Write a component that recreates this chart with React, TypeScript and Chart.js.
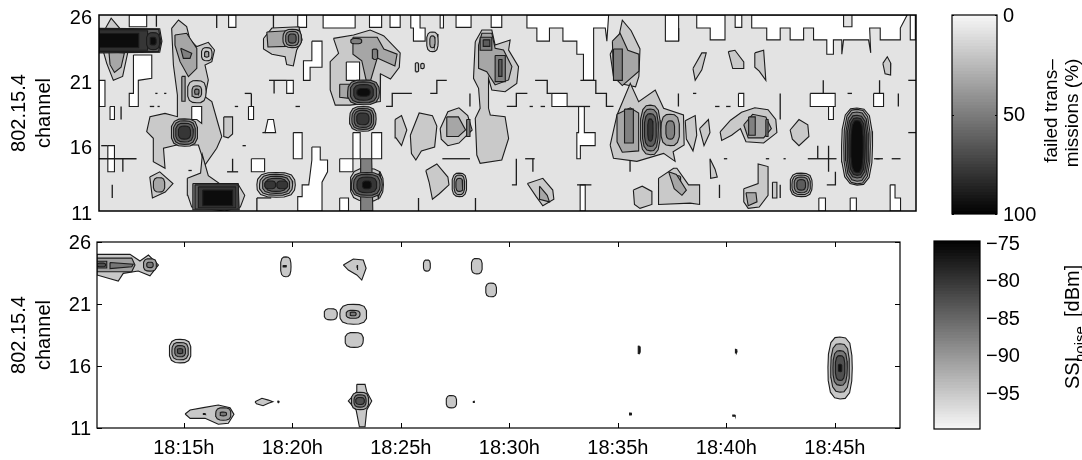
import React, { useEffect, useRef } from "react";
import { Chart } from "chart.js/auto";

// ---- axes ----
const timeMin = 11;
const timeMax = 48;
const channelTicks = [11, 16, 21, 26];
const timeTicks = [15, 20, 25, 30, 35, 40, 45];
const failedTicks = [0, 50, 100];
const noiseTicks = [-75, -80, -85, -90, -95];

// ---- top panel: failed transmissions. t = minutes after 18:00, c = channel ----
const whiteRects = [
  [12.37, 13.16, 26, 25.1], [16.87, 17.2, 26, 25.05], [20, 20.4, 26, 25.05], [23.25, 23.8, 26, 25.05],
  [21.15, 22.6, 26, 25], [11, 11.27, 21, 19], [11.5, 11.7, 19, 18], [11.4, 11.7, 16, 14], [17.77, 18, 19, 18],
  [19.5, 19.8, 21, 20], [17.9, 18.5, 15, 14], [19.8, 20.2, 17, 15], [21.9, 22.3, 12, 11], [21.9, 22.5, 15, 14],
  [22.5, 22.83, 17, 15], [23.35, 23.8, 17, 15], [24.18, 24.64, 26, 25.05], [26.45, 26.6, 26, 25],
  [27.17, 27.85, 26, 25.05], [28.76, 29.24, 26, 25.05], [31.51, 32.2, 20, 19], [36.65, 37.25, 26, 24],
  [32.79, 33.02, 13, 11], [39.81, 40.11, 26, 25.05], [43.21, 44.34, 20, 19], [44.04, 44.26, 19, 18],
  [46.08, 46.53, 20, 19], [43.6, 43.9, 12, 11], [45.02, 45.3, 12, 11], [39.96, 40.2, 20, 19], [47.74, 47.97, 26, 24.1],
];
const whitePolys = [
  [12.56, 22.94, 13.39, 22.94, 13.39, 21.15, 12.78, 21, 12.78, 19, 12.37, 19, 12.37, 20, 12.56, 20],
  [20.64, 24, 21.1, 24, 21.1, 22, 20.56, 22, 20.56, 21, 20.26, 21, 20.26, 22.5, 20.64, 22.5],
  [20.64, 15.9, 21.02, 15.9, 21.02, 14.9, 21.35, 14.9, 21.35, 14, 21.1, 13.2, 21.1, 11, 20, 11, 20, 12.1, 20.2, 12.1, 20.2, 13, 20.5, 13, 20.64, 14.9],
  [30.38, 26, 34.08, 26, 34, 24, 33.93, 25, 33.4, 25, 33.4, 21, 32.94, 21, 32.94, 23, 32.64, 23, 32.64, 24, 32.01, 24, 32.01, 25, 31.4, 25, 31.4, 24, 30.83, 24, 30.83, 25, 30.38, 25],
  [25.12, 26, 25.54, 26, 25.54, 25, 25.77, 25, 25.77, 24, 25.24, 24, 25.24, 25, 25.12, 25],
  [32.72, 19, 32.98, 19, 32.98, 17, 33.47, 17, 33.47, 16, 32.8, 16, 32.8, 15, 32.64, 15, 32.64, 17, 32.72, 17],
  [38.07, 26, 39.35, 26, 39.35, 24.1, 38.68, 24.1, 38.68, 25, 38.07, 25],
  [40.56, 26, 47.6, 26, 47.29, 25, 47.29, 24.1, 46.38, 24.1, 46.38, 25, 45.9, 25, 45.95, 23.1, 45.85, 24.1, 44.72, 24.1, 44.64, 23, 44.64, 24.1, 44.26, 24.1, 44.26, 23, 43.96, 23, 43.96, 24.1, 43.36, 24.1, 43.36, 25, 42.91, 25, 42.91, 24.1, 42.3, 24.1, 42.3, 25, 41.85, 25, 41.85, 24.1, 41.24, 24.1, 41.24, 25, 40.56, 25],
  [46.83, 13, 47.05, 13, 47.05, 12, 47.3, 12, 47.3, 11, 46.83, 11],
  [18.52, 17, 19, 17, 18.9, 18, 18.65, 18],
];
const grayIslands = [[44.72, 45.1, 26, 25.1]];
const openLines = [
  [13.6, 26, 13.6, 25.1], [16.33, 26, 16.33, 25], [18.9, 26, 18.9, 25], [11, 15, 12.7, 15], [12.08, 15, 12.08, 14],
  [11.1, 16, 11.4, 16], [17.05, 15, 17.05, 14], [16.8, 14, 17.3, 14], [12, 19, 12, 18], [18.15, 12, 18.8, 12],
  [18.15, 12, 18.15, 11], [18.7, 21, 19.5, 21], [18.93, 21, 18.93, 20], [17.6, 20, 17.9, 20], [17.9, 20, 17.9, 19],
  [24, 19, 24.28, 19, 24.28, 20, 25.17, 20], [26, 20, 26.3, 20, 26.3, 21, 26.75, 21], [27.8, 20, 27.8, 19],
  [29.47, 19, 29.9, 19, 29.9, 20, 30.4, 20], [30.75, 21, 31.3, 21, 31.3, 20, 31.51, 20], [32.2, 19, 33.24, 19],
  [32.8, 21, 33.5, 21, 33.5, 20, 33.98, 20, 33.98, 19, 34.3, 19], [26.55, 15, 27.8, 15], [29.9, 15, 29.9, 13, 29.7, 13],
  [30.3, 15, 30.73, 15], [30.65, 15, 30.65, 14], [25.47, 12, 25.47, 11], [28.05, 12, 28.05, 11], [32.65, 13, 33.3, 13],
  [35.05, 15, 35.05, 14], [37.25, 24, 37.25, 25], [41.85, 20, 41.85, 18], [37.24, 20, 37.24, 19],
  [47.2, 20, 47.2, 19], [43.8, 21, 43.8, 20], [46.35, 21, 46.35, 20], [47.65, 21, 48, 21], [47.65, 17, 48, 17],
  [43.1, 15, 44.4, 15], [43.55, 16, 43.55, 15], [44.04, 16, 44.04, 14], [44.35, 14, 44.35, 13, 43.96, 13],
  [46.1, 15, 46.5, 15], [41.85, 13, 41.85, 12], [39.1, 13, 39.1, 12], [11.6, 13, 11.6, 12], [46.9, 15, 47.3, 15],
  [13.3, 19, 13.5, 19], [13.65, 19, 13.75, 19], [13.55, 20, 13.65, 20], [13.95, 20, 14.05, 20], [17.15, 19, 17.3, 19],
  [15.05, 14.1, 15.2, 14.1], [17.5, 16, 17.65, 16], [18.4, 17, 18.55, 17], [19.9, 19, 20.1, 19], [30.5, 19, 30.65, 19],
  [31, 19, 31.2, 19], [38.9, 19, 39.1, 19], [39.4, 19, 39.6, 19], [37.9, 20, 38.05, 20], [44.9, 20, 45.1, 20],
  [39.3, 15, 39.45, 15], [41.2, 15, 41.35, 15], [42, 15, 42.1, 15], [46.2, 15, 46.35, 15],
];
const level1Polys = [
  [14.29, 24.98, 14.6, 25.62, 14.97, 25.11, 15.12, 24.09, 15.43, 23.58, 15.95, 23.91, 16.23, 23.32, 16.11, 22.43, 15.8, 22.17, 15.95, 21.03, 15.8, 19.75, 16.11, 19.37, 16.41, 17.58, 16.56, 16.69, 16.33, 15.8, 15.8, 14.52, 15.5, 16.05, 14.52, 16.05, 13.92, 15.8, 13.99, 14.27, 13.46, 14.78, 13.46, 16.56, 13.16, 17.07, 13.31, 18.22, 13.99, 18.47, 14.55, 18.22, 14.55, 19.88, 14.37, 22.17],
  [11.3, 25, 11.55, 25.75, 11.93, 25, 12.3, 23.1, 12.07, 21.3, 11.65, 21, 11.35, 22.3, 11.2, 23.2],
  [16.65, 18.2, 17.05, 18.2, 17.05, 16.9, 16.85, 16.6, 16.65, 16.7],
  [13.3, 13.6, 13.75, 14, 14.35, 13.1, 14, 12.45, 13.42, 12],
  [15.0, 13.5, 15.6, 13.9, 15.68, 15.3, 15.95, 13.7, 16.5, 13.05, 17.3, 13.05, 17.6, 12.2, 17.4, 11.3, 16.7, 11, 15.2, 11.3, 15.02, 12.2],
  [18.45, 24.2, 18.83, 25, 20.05, 25.1, 20.2, 24.1, 19.95, 23.3, 19.8, 22.1, 19.5, 22.2, 19.43, 22.8, 18.83, 23, 18.45, 23.4],
  [21.62, 24.21, 22.53, 24.47, 23.28, 24.85, 23.81, 24.47, 23.9, 24.4, 24.64, 23.1, 24.6, 22, 24.2, 21.1, 23.75, 21.5, 23.75, 21, 23.73, 19.37, 22.37, 19.1, 21.7, 19.1, 21.47, 20.26, 21.47, 22.43, 21.85, 23.07],
  [28.04, 23.96, 28.34, 24.85, 28.79, 24.85, 28.94, 23.7, 29.62, 24.09, 29.55, 23.32, 30, 22.05, 29.92, 20.77, 29.39, 20.13, 28.79, 20.26, 28.64, 21.15, 28.64, 18.86, 28.72, 18.35, 29.39, 18.22, 29.55, 16.56, 29.24, 14.9, 28.26, 14.65, 28.11, 15.28, 28.04, 18.09, 28.26, 18.86, 28.19, 20.39, 27.96, 21.15],
  [24.41, 18, 24.7, 18.3, 24.94, 17.2, 24.7, 16, 24.45, 16.6],
  [25.1, 16.8, 25.5, 18.5, 26.1, 18.3, 26.3, 17.5, 26.2, 15.9, 25.6, 15.6, 25.35, 14.9, 25.15, 15.4],
  [26.45, 17.3, 26.8, 18.6, 27.3, 18.9, 27.7, 18.3, 27.9, 17.2, 27.3, 16.2, 26.8, 16, 26.5, 16.5],
  [25.8, 14.1, 26.3, 14.6, 26.8, 13.6, 26.85, 13, 26.4, 12.3, 26.1, 11.9, 25.95, 13.2],
  [30.4, 13.1, 31.1, 13.5, 31.55, 12.6, 31.6, 11.9, 31.1, 11.4, 30.8, 12.1],
  [34.15, 23, 34.55, 24.4, 34.7, 25.6, 35.1, 24.8, 35.5, 23.4, 35.45, 21.3, 35.3, 20.5, 34.75, 20.7, 34.3, 21.3],
  [34.15, 16.05, 34.46, 18.35, 35.06, 20.77, 35.44, 19.37, 36.19, 20.26, 36.57, 18.86, 37.47, 18.35, 37.5, 16.05, 37, 15.54, 37.09, 14.8, 36.57, 15.41, 35.36, 14.8, 34.3, 15.03],
  [36.34, 13.5, 37.02, 14.27, 37.17, 14.27, 37.7, 13, 38.2, 13, 38.2, 11.5, 37.77, 11.6, 36.34, 11.5],
  [35.2, 12.6, 35.6, 12.9, 36.04, 12.5, 36.04, 11.5, 35.5, 11.2, 35.25, 11.5],
  [37.55, 17.9, 38, 18.3, 38.07, 16.8, 37.9, 15.6, 37.6, 16.5],
  [38.2, 17.3, 38.6, 18, 38.67, 17, 38.4, 16],
  [39.13, 17.05, 39.6, 17.95, 40.1, 18.55, 40.7, 18.9, 41.3, 18.75, 41.65, 18, 41.7, 17, 41.1, 16.2, 40.3, 16.3, 40.05, 17.3, 39.65, 16.8, 39.2, 16.4],
  [42.3, 17.2, 42.7, 18, 43.1, 17.6, 43.15, 16.7, 42.7, 16, 42.4, 16.5],
  [40.2, 12.7, 40.85, 13.1, 40.85, 14.6, 41.3, 14.4, 41.3, 12.2, 40.9, 11.3, 40.4, 11.2, 40.2, 11.7],
  [46.5, 22.3, 46.7, 22.8, 46.86, 22.3, 46.85, 21.4, 46.6, 21.5],
  [37.9, 21.9, 38.3, 23.1, 38.5, 23.1, 38.3, 21.8, 38, 21],
  [39.5, 23.2, 39.8, 23.3, 40.2, 22.4, 40.2, 21.9, 39.7, 21.9],
  [40.7, 23.1, 41.1, 23.3, 41.2, 21, 40.9, 21.7, 40.7, 22],
  [38.67, 15, 38.9, 14.2, 39, 13.6, 38.7, 13.5],
  [41.5, 13.2, 41.7, 13.2, 41.7, 12, 41.5, 12],
];
const level1Rings = [
  [15.43, 20.13, 0.42, 0.85], [15.88, 23.0, 0.24, 0.5], [19.02, 13, 0.87, 0.95], [23.13, 13, 0.75, 1.25],
  [26.1, 23.95, 0.26, 0.75], [25.4, 22, 0.08, 0.35], [25.65, 22.1, 0.08, 0.2], [27.32, 13, 0.33, 0.9],
  [42.8, 13, 0.5, 0.9], [45.33, 15.93, 0.7, 2.95], [37.2, 13.4, 0.15, 0.3],
];
const holePolys = [
  [22.2, 22.4, 22.8, 22.4, 22.8, 21, 22.2, 21],
  [15.2, 19, 15.65, 19, 15.65, 17.7, 15.43, 18, 15.2, 18],
];
const level2Polys = [
  [14.44, 24.47, 14.97, 24.6, 15.43, 23.45, 15.43, 21.92, 15.05, 21.28, 14.67, 22.43, 14.44, 23.7],
  [14.75, 21.3, 14.9, 21.3, 14.9, 19.4, 14.75, 19.4],
  [11.45, 23.2, 12.15, 23.1, 12, 22, 11.7, 21.6, 11.5, 22.2],
  [18.6, 24.7, 20.05, 24.85, 20.1, 23.85, 19.5, 23.6, 18.65, 23.55],
  [22.5, 24.3, 23.6, 24.3, 23.9, 23.4, 24.5, 23, 24.4, 22.1, 23.6, 22.7, 23.3, 21, 23.1, 21, 22.9, 22.5, 22.5, 23],
  [21.9, 20.7, 22.4, 20.7, 22.4, 19.6, 21.9, 19.7],
  [28.19, 23.7, 28.34, 24.6, 28.79, 24.6, 28.94, 23.45, 29.32, 23.32, 29.7, 22.05, 29.55, 21.03, 28.94, 20.65, 28.56, 21.66, 28.19, 21.92],
  [26.75, 18.2, 27.28, 18.2, 27.6, 17.2, 27.28, 16.7, 26.75, 16.7],
  [34.25, 24, 34.6, 24.6, 34.95, 23.3, 35.45, 23, 35.45, 21.7, 34.7, 20.6, 34.3, 21.3],
  [34.46, 18.4, 35.06, 18.9, 35.44, 18.5, 35.44, 15.6, 34.7, 15.5, 34.46, 16.3],
  [40.2, 17.6, 40.6, 18.4, 41.2, 18.2, 41.45, 17.3, 41.1, 16.6, 40.4, 16.6],
  [23.72, 14, 23.8, 13, 23.65, 12, 23.5, 13],
  [30.95, 12.9, 31.3, 12.2, 31.4, 11.7, 30.95, 11.9],
  [36.8, 14, 37.15, 13.8, 37.6, 12.6, 37.4, 12.2, 37.05, 12.7],
  [40.3, 12.4, 40.75, 12.4, 40.8, 11.7, 40.4, 11.4],
];
const level2Rings = [
  [15.43, 20.13, 0.22, 0.45], [15.88, 23.0, 0.1, 0.22], [14.87, 17, 0.6, 1.05], [13.72, 13, 0.26, 0.55],
  [19.02, 13, 0.75, 0.8], [22.95, 18.05, 0.6, 0.95], [19.75, 24.2, 0.42, 0.7], [26.1, 23.95, 0.12, 0.45],
  [27.32, 13, 0.24, 0.75], [35.97, 17.2, 0.45, 1.9], [36.87, 17.2, 0.42, 1.2], [42.8, 13, 0.42, 0.75],
  [45.33, 15.93, 0.6, 2.85],
];
const level3Polys = [
  [14.7, 23.45, 15.2, 23.07, 15.12, 22.68, 14.82, 22.68],
  [11, 24.98, 13.75, 24.95, 13.85, 24, 13.75, 23.15, 11, 23.1],
  [15.25, 13.1, 17.3, 13.1, 17.35, 11.1, 15.25, 11.1],
  [22.85, 15, 23.35, 15, 23.4, 11, 22.85, 11],
  [28.26, 24.3, 28.79, 24.3, 28.79, 23.3, 28.26, 23.3],
  [28.94, 22.9, 29.4, 22.9, 29.4, 20.9, 28.94, 20.9],
  [34.3, 23.4, 34.7, 23.4, 34.7, 21, 34.3, 21],
  [34.8, 18.8, 35.2, 18.8, 35.2, 16.2, 34.8, 16.2],
  [40.42, 18.2, 40.72, 18.2, 40.72, 16.8, 40.42, 16.8],
  [41.2, 18, 41.3, 18, 41.3, 16.7, 41.2, 16.7],
  [27.65, 18, 27.8, 18, 27.8, 16.7, 27.65, 16.7],
];
const level3Rings = [
  [15.43, 20.13, 0.1, 0.2], [14.87, 17, 0.5, 0.9], [19.02, 13, 0.62, 0.65], [22.98, 20.08, 0.72, 0.95],
  [22.95, 18.05, 0.5, 0.8], [19.75, 24.2, 0.3, 0.55], [23.13, 13, 0.7, 0.95], [35.97, 17.2, 0.36, 1.6],
  [36.87, 17.2, 0.2, 0.7], [42.8, 13, 0.32, 0.6], [27.32, 13, 0.16, 0.5], [45.33, 15.93, 0.52, 2.65],
  [23.5, 23, 0.13, 0.4], [22.65, 24, 0.25, 0.2],
];
const level4Polys = [
  [11, 24.9, 13.7, 24.9, 13.8, 24, 13.7, 23.2, 11, 23.2],
  [15.35, 13, 17.3, 13, 17.3, 11.15, 15.35, 11.15],
  [28.4, 24.1, 28.7, 24.1, 28.7, 23.6, 28.4, 23.6],
  [29.1, 22.6, 29.25, 22.6, 29.25, 21.3, 29.1, 21.3],
];
const level4Rings = [
  [14.87, 17, 0.4, 0.72], [19.02, 13, 0.48, 0.5], [22.98, 20.08, 0.6, 0.8], [22.95, 18.05, 0.4, 0.65],
  [23.13, 13, 0.6, 0.8], [19.75, 24.2, 0.18, 0.35], [35.97, 17.2, 0.27, 1.25], [42.8, 13, 0.2, 0.4],
  [45.33, 15.93, 0.45, 2.4],
];
const level5Polys = [
  [11, 24.8, 13.2, 24.8, 13.2, 23.3, 11, 23.3],
  [15.5, 12.85, 17.2, 12.85, 17.2, 11.25, 15.5, 11.25],
];
const level5Rings = [
  [13.45, 24, 0.3, 0.65], [14.87, 17, 0.28, 0.5], [18.75, 13, 0.25, 0.3], [19.3, 13, 0.25, 0.3],
  [22.98, 20.08, 0.45, 0.6], [22.95, 18.05, 0.28, 0.45], [23.13, 13, 0.45, 0.6], [35.97, 17.2, 0.12, 0.85],
  [45.33, 15.93, 0.37, 2.2],
];
const level6Polys = [
  [11, 24.6, 12.8, 24.6, 12.8, 23.5, 11, 23.5],
  [15.7, 12.6, 17.05, 12.6, 17.05, 11.4, 15.7, 11.4],
];
const level6Rings = [
  [13.45, 24, 0.14, 0.3], [22.98, 20.08, 0.3, 0.3], [23.13, 13, 0.2, 0.3], [45.33, 15.93, 0.28, 2.0],
];

// ---- bottom panel: SSI noise ----
const noiseL1Polys = [
  [11, 25, 12.52, 25, 12.98, 24.47, 13.37, 24.95, 13.83, 24.15, 13.44, 23.28, 12.9, 23.66, 12.21, 23.47, 11.98, 22.85, 11.52, 23.07, 11, 23.34],
  [22.35, 24.15, 22.81, 24.63, 23.27, 24.55, 23.4, 23.88, 23.2, 22.93, 22.97, 23.34, 22.58, 23.74],
  [15.06, 12.13, 15.29, 12.45, 15.9, 12.64, 16.59, 12.85, 17.13, 12.64, 17.31, 12.1, 17.05, 11.38, 16.59, 11.3, 15.98, 11.78, 15.29, 11.78],
  [22.97, 14.52, 23.35, 14.52, 23.43, 13.93, 23.66, 13.18, 23.43, 12.45, 23.35, 11.1, 23.09, 11.1, 22.94, 12.45, 22.58, 13.18, 22.97, 13.93],
  [18.28, 13.12, 18.6, 13.4, 18.9, 13.25, 19.1, 13.12, 18.9, 13, 18.65, 12.8, 18.35, 12.95],
];
const noiseL1Rings = [
  [19.7, 24, 0.24, 0.8], [21.77, 20.17, 0.3, 0.45], [22.81, 20.17, 0.62, 0.8], [22.85, 18.1, 0.42, 0.6],
  [14.83, 17.2, 0.5, 0.95], [26.2, 24.1, 0.16, 0.45], [28.5, 24.05, 0.25, 0.62], [29.16, 22.13, 0.25, 0.55],
  [27.33, 13.12, 0.24, 0.5], [45.24, 15.84, 0.56, 2.5],
];
const noiseL2Polys = [[11, 24.7, 12.6, 24.7, 12.75, 24.15, 12.6, 23.6, 11, 23.6]];
const noiseL2Rings = [
  [13.44, 24.15, 0.3, 0.5], [22.8, 20.17, 0.32, 0.32], [14.83, 17.2, 0.38, 0.7], [16.82, 12.13, 0.35, 0.5],
  [23.12, 13.18, 0.4, 0.7], [45.24, 15.84, 0.43, 1.95],
];
const noiseL3Polys = [[11.6, 24.35, 12.67, 24.2, 12.6, 24, 11.6, 23.85], [11, 24.45, 11.45, 24.45, 11.45, 23.9, 11, 23.9]];
const noiseL3Rings = [
  [13.44, 24.15, 0.15, 0.22], [22.8, 20.2, 0.14, 0.15], [14.83, 17.2, 0.25, 0.45], [16.82, 12.13, 0.15, 0.15],
  [23.12, 13.18, 0.28, 0.5], [45.24, 15.84, 0.33, 1.4],
];
const noiseL4Rings = [
  [14.83, 17.2, 0.13, 0.2], [23.12, 13.18, 0.2, 0.28], [45.24, 15.84, 0.22, 1.0], [11.2, 24.15, 0.2, 0.15],
];
const noiseL5Rings = [
  [45.24, 15.84, 0.08, 0.3], [19.65, 24.05, 0.08, 0.06], [23.0, 23.95, 0.02, 0.2], [35.98, 17.3, 0.05, 0.3],
  [28.36, 13.12, 0.03, 0.06], [19.36, 13.12, 0.03, 0.06], [35.58, 12.13, 0.05, 0.08], [40.45, 17.2, 0.04, 0.15],
  [40.35, 12, 0.06, 0.05], [15.95, 12.13, 0.06, 0.03],
];

// fixed outline used for the rounded contour rings
const ringOutline = [
  [0, 1], [0.45, 0.97], [0.8, 0.8], [0.97, 0.4], [1, 0], [0.96, -0.42], [0.78, -0.8], [0.42, -0.98], [0, -1],
  [-0.45, -0.96], [-0.8, -0.78], [-0.98, -0.4], [-1, 0.02], [-0.96, 0.45], [-0.76, 0.82], [-0.42, 0.98],
];

const LINE = "#1c1c1c";
const FONT = "'Liberation Sans', Arial, sans-serif";

function toPoints(flat: number[], close: boolean) {
  const pts: { x: number; y: number }[] = [];
  for (let i = 0; i < flat.length; i += 2) pts.push({ x: flat[i], y: flat[i + 1] });
  if (close) pts.push(pts[0]);
  return pts;
}
const polyDs = (flat: number[], color: string, border = 1.1) => ({
  data: toPoints(flat, true), showLine: true, fill: "shape", backgroundColor: color,
  borderColor: border ? LINE : color, borderWidth: border, pointRadius: 0, tension: 0,
});
const lineDs = (flat: number[]) => ({
  data: toPoints(flat, false), showLine: true, fill: false, borderColor: LINE, borderWidth: 1.3, pointRadius: 0, tension: 0,
});
const rectFlat = ([a, b, c, d]: number[]) => [a, c, b, c, b, d, a, d];
const ringFlat = ([t, c, rx, ry]: number[]) => ringOutline.flatMap(([u, v]) => [t + u * rx, c + v * ry]);

function levelDs(polys: number[][], rings: number[][], color: string) {
  return [...polys.map((p) => polyDs(p, color)), ...rings.map((r) => polyDs(ringFlat(r), color))];
}

const topDatasets = [
  polyDs(rectFlat([timeMin, timeMax, 26, 11]), "#e3e3e3", 0),
  ...whiteRects.map((r) => polyDs(rectFlat(r), "#ffffff")),
  ...whitePolys.map((p) => polyDs(p, "#ffffff")),
  ...grayIslands.map((r) => polyDs(rectFlat(r), "#e3e3e3")),
  ...openLines.map((l) => lineDs(l)),
  ...levelDs(level1Polys, level1Rings, "#c9c9c9"),
  ...holePolys.map((p) => polyDs(p, "#ffffff")),
  ...levelDs(level2Polys, level2Rings, "#a6a6a6"),
  ...levelDs(level3Polys, level3Rings, "#808080"),
  ...levelDs(level4Polys, level4Rings, "#5c5c5c"),
  ...levelDs(level5Polys, level5Rings, "#363636"),
  ...levelDs(level6Polys, level6Rings, "#0c0c0c"),
];
const bottomDatasets = [
  ...levelDs(noiseL1Polys, noiseL1Rings, "#c8c8c8"),
  ...levelDs(noiseL2Polys, noiseL2Rings, "#a0a0a0"),
  ...levelDs(noiseL3Polys, noiseL3Rings, "#767676"),
  ...levelDs([], noiseL4Rings, "#505050"),
  ...levelDs([], noiseL5Rings, "#101010"),
];

const framePlugin = (lw: number, tickLen: number, tickX: boolean) => ({
  id: "frame",
  afterDraw(chart: any) {
    const { ctx, chartArea: a, scales } = chart;
    ctx.save();
    ctx.strokeStyle = "#000";
    ctx.lineWidth = 1;
    ctx.beginPath();
    if (tickLen) {
      if (tickX)
        scales.x.ticks.forEach((t: any) => {
          const p = Math.round(scales.x.getPixelForValue(t.value)) + 0.5;
          ctx.moveTo(p, a.top); ctx.lineTo(p, a.top + tickLen);
          ctx.moveTo(p, a.bottom); ctx.lineTo(p, a.bottom - tickLen);
        });
      scales.y.ticks.forEach((t: any) => {
        const p = Math.round(scales.y.getPixelForValue(t.value)) + 0.5;
        ctx.moveTo(a.left, p); ctx.lineTo(a.left + tickLen, p);
        ctx.moveTo(a.right, p); ctx.lineTo(a.right - tickLen, p);
      });
    }
    ctx.stroke();
    ctx.lineWidth = lw;
    ctx.strokeRect(a.left, a.top, a.right - a.left, a.bottom - a.top);
    ctx.restore();
  },
});

type Txt = { text: string; x: number; y: number; size: number; align: CanvasTextAlign };
const rotatedText = (items: Txt[]) => ({
  id: "rotatedText",
  afterDraw(chart: any) {
    const { ctx } = chart;
    items.forEach((it) => {
      ctx.save();
      ctx.translate(it.x, it.y);
      ctx.rotate(-Math.PI / 2);
      ctx.font = `${it.size}px ${FONT}`;
      ctx.fillStyle = "#000";
      ctx.textAlign = it.align;
      ctx.textBaseline = "alphabetic";
      ctx.fillText(it.text, 0, 0);
      ctx.restore();
    });
  },
});

const basePlugins = {
  legend: { display: false }, tooltip: { enabled: false }, title: { display: false },
  filler: { drawTime: "beforeDatasetDraw", propagate: false },
};
const noScalePadding = (s: any) => { s.paddingTop = 0; s.paddingBottom = 0; s.paddingLeft = 0; s.paddingRight = 0; };

function panelConfig(datasets: any[], padding: any, yWidth: number, xHeight: number, showX: boolean, plugins: any[], xPad: number, yPad: number, yLabelOffset: number) {
  return {
    type: "scatter",
    data: { datasets: [...datasets].reverse() },
    plugins,
    options: {
      animation: false, responsive: false, events: [],
      layout: { padding, autoPadding: false },
      plugins: basePlugins,
      scales: {
        x: {
          type: "linear", min: timeMin, max: timeMax,
          grid: { display: false, drawTicks: false }, border: { display: false },
          afterBuildTicks: (s: any) => { s.ticks = timeTicks.map((value) => ({ value })); },
          afterFit: (s: any) => { s.height = xHeight; noScalePadding(s); },
          ticks: {
            display: showX, padding: xPad, maxRotation: 0, autoSkip: false, color: "#000",
            font: { family: FONT, size: 20 }, callback: (v: number) => `18:${v}h`,
          },
        },
        y: {
          type: "linear", min: 11, max: 26,
          grid: { display: false, drawTicks: false }, border: { display: false },
          afterBuildTicks: (s: any) => { s.ticks = channelTicks.map((value) => ({ value })); },
          afterFit: (s: any) => { s.width = yWidth; noScalePadding(s); },
          ticks: { padding: yPad, labelOffset: yLabelOffset, autoSkip: false, color: "#000", font: { family: FONT, size: 20 } },
          title: {
            display: true, text: ["802.15.4", "channel"], color: "#000", padding: { top: 7, bottom: 0 },
            font: { family: FONT, size: 20, lineHeight: 1.25 },
          },
        },
      },
    },
  };
}

function colorbarConfig(min: number, max: number, reverse: boolean, ticks: number[], padding: any, yWidth: number, labelOffset: number, fmt: (v: number) => string, plugins: any[]) {
  const steps = 64;
  const datasets: any[] = [];
  for (let i = 0; i < steps; i++) {
    const f = i / steps;
    const v = min + (max - min) * f;
    const g = Math.round(245 * (1 - f));
    datasets.push(polyDs(rectFlat([0, 1, v, max]), `rgb(${g},${g},${g})`, 0));
  }
  return {
    type: "scatter",
    data: { datasets: datasets.reverse() },
    plugins,
    options: {
      animation: false, responsive: false, events: [],
      layout: { padding, autoPadding: false },
      plugins: basePlugins,
      scales: {
        x: { type: "linear", display: false, min: 0, max: 1 },
        y: {
          type: "linear", position: "right", min, max, reverse,
          grid: { display: false, drawTicks: false }, border: { display: false },
          afterBuildTicks: (s: any) => { s.ticks = ticks.map((value) => ({ value })); },
          afterFit: (s: any) => { s.width = yWidth; noScalePadding(s); },
          ticks: { padding: 6, labelOffset, autoSkip: false, color: "#000", font: { family: FONT, size: 20 }, callback: (v: number) => fmt(v) },
        },
      },
    },
  };
}

const layers: { left: number; top: number; width: number; height: number; make: () => any }[] = [
  {
    left: 0, top: 0, width: 925, height: 225,
    make: () => panelConfig(topDatasets, { top: 15, right: 9, bottom: 14, left: 0 }, 99, 0, false, [framePlugin(1.5, 0, false)], 0, 7, 3),
  },
  {
    left: 0, top: 230, width: 915, height: 230,
    make: () => panelConfig(bottomDatasets, { top: 12, right: 15, bottom: 0, left: 0 }, 97, 32, true, [framePlugin(1.2, 5, true)], 8, 6, 1),
  },
  {
    left: 940, top: 0, width: 142, height: 230,
    make: () => colorbarConfig(0, 100, true, failedTicks, { top: 15, right: 0, bottom: 16, left: 12 }, 85, 1, (v) => String(v), [
      framePlugin(1.2, 2, false),
      rotatedText([
        { text: "failed trans–", x: 117, y: 111, size: 19, align: "center" },
        { text: "missions (%)", x: 138, y: 113, size: 19, align: "center" },
      ]),
    ]),
  },
  {
    left: 925, top: 230, width: 157, height: 205,
    make: () => colorbarConfig(-100, -75, false, noiseTicks, { top: 11, right: 0, bottom: 6, left: 9 }, 102, 3, (v) => `−${Math.abs(v)}`, [
      framePlugin(1.2, 0, false),
      rotatedText([
        { text: "SSI", x: 154, y: 159, size: 20, align: "left" },
        { text: "noise", x: 160, y: 132, size: 15, align: "left" },
        { text: "[dBm]", x: 154, y: 87, size: 20, align: "left" },
      ]),
    ]),
  },
];

function Layer({ left, top, width, height, make }: (typeof layers)[number]) {
  const ref = useRef<HTMLCanvasElement>(null);
  useEffect(() => {
    const chart = new Chart(ref.current as HTMLCanvasElement, make());
    return () => chart.destroy();
  }, []);
  return <canvas ref={ref} width={width} height={height} style={{ position: "absolute", left, top, width, height }} />;
}

export default function App() {
  return (
    <div style={{ position: "absolute", left: 0, top: 0, width: 1082, height: 460, overflow: "hidden", background: "#fff" }}>
      {layers.map((l, i) => <Layer key={i} {...l} />)}
    </div>
  );
}
